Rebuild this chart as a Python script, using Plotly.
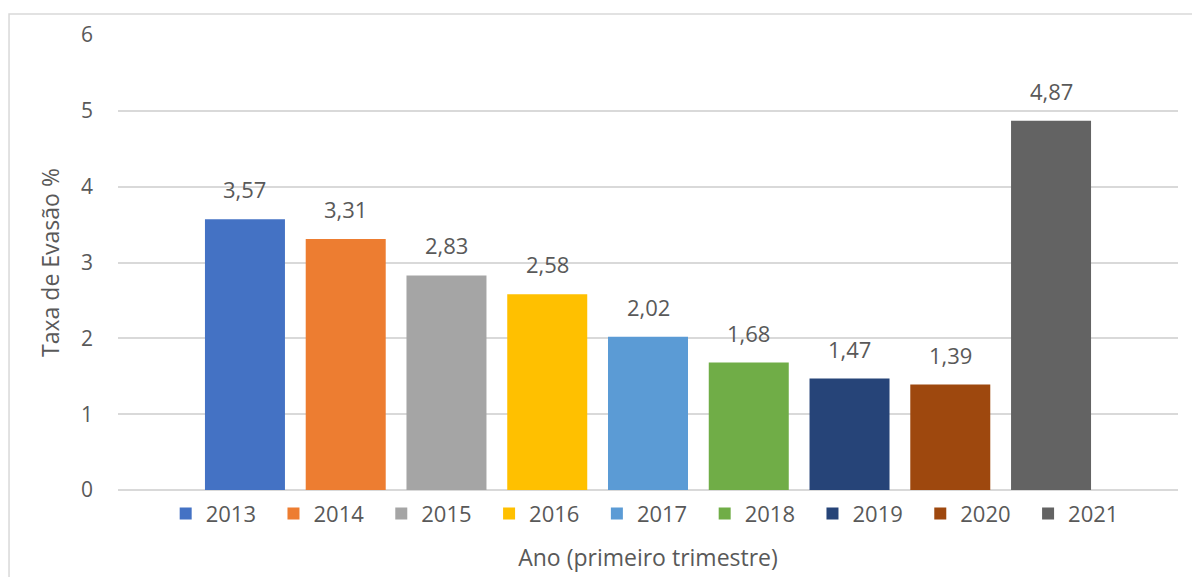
import plotly.graph_objects as go

anos = [2013, 2014, 2015, 2016, 2017, 2018, 2019, 2020, 2021]
taxas = [3.57, 3.31, 2.83, 2.58, 2.02, 1.68, 1.47, 1.39, 4.87]
rotulos = ["3,57", "3,31", "2,83", "2,58", "2,02", "1,68", "1,47", "1,39", "4,87"]
cores = ["#4472C4", "#ED7D31", "#A5A5A5", "#FFC000", "#5B9BD5",
         "#70AD47", "#264478", "#9E480E", "#636363"]
y_ticks = [0, 1, 2, 3, 4, 5, 6]

FONT = "Open Sans"
GRAY = "#595959"

fig = go.Figure()
for ano, taxa, cor in zip(anos, taxas, cores):
    fig.add_trace(go.Bar(
        x=[ano], y=[taxa], name=str(ano),
        marker=dict(color=cor, line=dict(width=0)),
        width=0.794,
        hoverinfo="skip",
    ))

for ano, taxa, rot in zip(anos, taxas, rotulos):
    fig.add_annotation(x=ano, y=taxa, text=rot, showarrow=False,
                       yanchor="bottom", yshift=13,
                       font=dict(family=FONT, size=22, color=GRAY))

fig.add_shape(type="rect", xref="paper", yref="paper",
              x0=-0.1028, x1=1.2, y0=-0.4, y1=1.0459,
              line=dict(color="#D9D9D9", width=1.5), layer="below")

fig.update_layout(
    width=1200, height=577,
    paper_bgcolor="white", plot_bgcolor="white",
    margin=dict(l=110, r=30, t=24, b=95),
    barmode="overlay",
    font=dict(family=FONT, color=GRAY, size=20),
    showlegend=True,
    legend=dict(orientation="h", x=0.503, xanchor="center", y=-0.006,
                yanchor="top", font=dict(family=FONT, size=22, color=GRAY),
                entrywidth=62.8, entrywidthmode="pixels", itemclick=False,
                traceorder="normal", bgcolor="rgba(0,0,0,0)"),
    xaxis=dict(range=[2011.74, 2022.26], showticklabels=False, showgrid=False,
               zeroline=False, showline=False, ticks="", fixedrange=True,
               title=dict(text="Ano (primeiro trimestre)", standoff=59,
                          font=dict(family=FONT, size=23, color=GRAY))),
    yaxis=dict(range=[0, 6], tickvals=y_ticks, showgrid=True,
               gridcolor="#D9D9D9", gridwidth=1.5, zeroline=True,
               zerolinecolor="#D9D9D9", zerolinewidth=1.5, showline=False,
               ticks="", ticklabelstandoff=24,
               tickfont=dict(family=FONT, size=21, color=GRAY),
               title=dict(text="Taxa de Evasão %", standoff=14,
                          font=dict(family=FONT, size=23, color=GRAY))),
)

fig.write_html("out.html")
